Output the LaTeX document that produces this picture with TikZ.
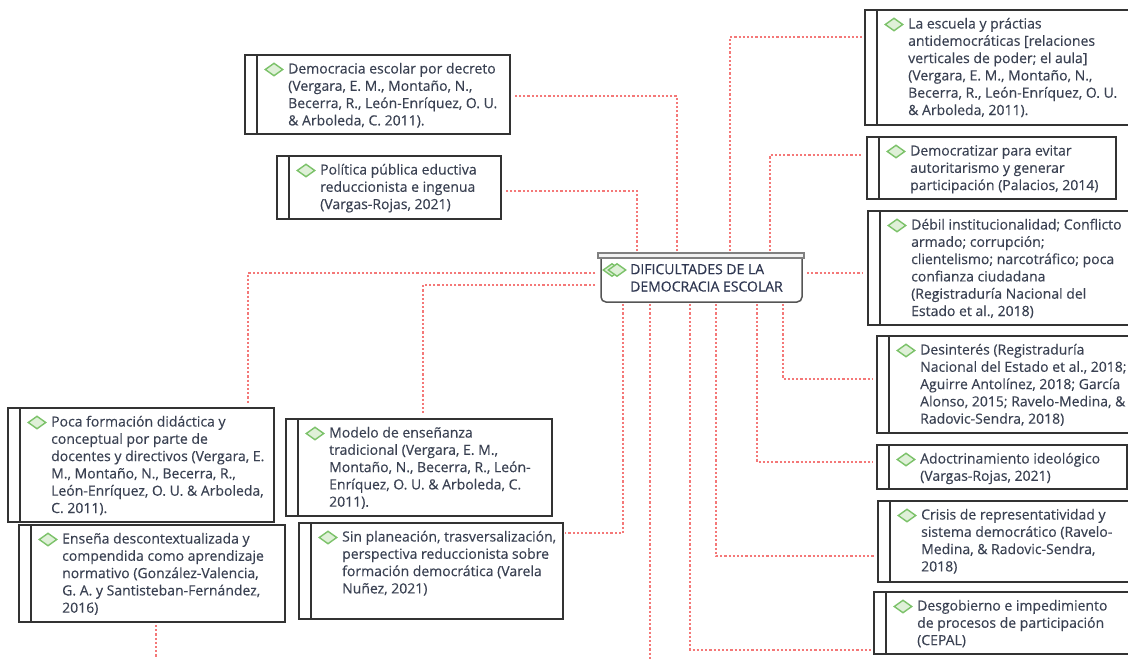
\documentclass[tikz,border=0pt]{standalone}
\usepackage{fontspec}
\setmainfont{Open Sans}[FakeBold=0.3]
\usetikzlibrary{fit,calc,shapes.geometric}
\definecolor{txtc}{HTML}{3A4152}
\definecolor{ttlc}{HTML}{2E3650}
\definecolor{boxc}{HTML}{333333}
\definecolor{ctrc}{HTML}{555555}
\definecolor{barc}{HTML}{F2F2F2}
\definecolor{dgreen}{HTML}{7CC26A}
\definecolor{lgreen}{HTML}{DFF0D8}
\definecolor{lred}{HTML}{F47878}
\tikzset{
  boxs/.style={draw=boxc, line width=1.2pt, inner sep=0pt, outer sep=0pt, rectangle},
  boxline/.style={draw=boxc, line width=1.2pt},
  diam/.style={diamond, draw=dgreen, fill=lgreen, line width=1.4pt, minimum width=18pt, minimum height=13pt, inner sep=0pt},
  txt/.style={anchor=north west, align=left, inner sep=0pt, text=txtc, font=\fontsize{14}{17.3}\selectfont},
  ttl/.style={anchor=north west, align=left, inner sep=0pt, text=ttlc, font=\fontsize{14}{17.3}\selectfont},
  conn/.style={draw=lred, line width=2.6pt, dash pattern=on 2.2pt off 2pt},
}
\newcommand\ibox[6]{%
  \node[boxs, fit={(#2,#3)(#4,#5)}] (#1) {};
  \draw[boxline] ($(#1.north west)+(12,0)$) -- ($(#1.south west)+(12,0)$);
  \node[diam] (#1d) at ($(#1.north west)+(29,14.5)$) {};
  \node[txt] (#1t) at ($(#1.north west)+(43,3.3)$) {\rule{0pt}{15pt}#6};
}
\begin{document}
\begin{tikzpicture}[x=1pt,y=-1pt]
\useasboundingbox (0,0) rectangle (1128,659);
\clip (0,0) rectangle (1128,659);
\fill[white] (0,0) rectangle (1128,659);

% center node
\node[fit={(598,253)(804,302)}, inner sep=0pt, outer sep=0pt] (ctr) {};
\draw[draw=ctrc, line width=1.5pt, rounded corners=5pt] ($(ctr.north west)+(3,3)$) -- ($(ctr.south west)+(3,0)$) -- ($(ctr.south east)+(-2,0)$) -- ($(ctr.north east)+(-2,3)$);
\draw[draw=gray, fill=barc, line width=1.1pt] (ctr.north west) rectangle ($(ctr.north east)+(0,5)$);
\node[diam] (ctrd1) at ($(ctr.north west)+(14,17)$) {};
\node[diam] (ctrd2) at ($(ctr.north west)+(19,17)$) {};
\node[ttl] (ctrt) at ($(ctr.north west)+(32,6)$) {\rule{0pt}{15pt}DIFICULTADES DE LA\\DEMOCRACIA ESCOLAR};

% boxes
\ibox{b1}{245}{55}{510}{134}{Democracia escolar por decreto\\(Vergara, E. M., Montaño, N.,\\Becerra, R., León-Enríquez, O. U.\\\& Arboleda, C. 2011).}
\ibox{b2}{277}{156}{501}{219}{Política pública eductiva\\reduccionista e ingenua\\(Vargas-Rojas, 2021)}
\ibox{b4}{865}{10}{1132}{125}{La escuela y práctias\\antidemocráticas [relaciones\\verticales de poder; el aula]\\(Vergara, E. M., Montaño, N.,\\Becerra, R., León-Enríquez, O. U.\\\& Arboleda, 2011).}
\ibox{b5}{867}{137}{1116}{199}{Democratizar para evitar\\autoritarismo y generar\\participación (Palacios, 2014)}
\ibox{b6}{868}{211}{1132}{325}{Débil institucionalidad; Conflicto\\armado; corrupción;\\clientelismo; narcotráfico; poca\\confianza ciudadana\\(Registraduría Nacional del\\Estado et al., 2018)}
\ibox{b7}{877}{336}{1132}{433}{Desinterés (Registraduría\\Nacional del Estado et al., 2018;\\Aguirre Antolínez, 2018; García\\Alonso, 2015; Ravelo-Medina, \&\\Radovic-Sendra, 2018)}
\ibox{b8}{877}{445}{1127}{489}{Adoctrinamiento ideológico\\(Vargas-Rojas, 2021)}
\ibox{b9}{878}{501}{1132}{582}{Crisis de representatividad y\\sistema democrático (Ravelo-\\Medina, \& Radovic-Sendra,\\2018)}
\ibox{b10}{874}{592}{1132}{654}{Desgobierno e impedimiento\\de procesos de participación\\(CEPAL)}
\ibox{b11}{8}{408}{274}{522}{Poca formación didáctica y\\conceptual por parte de\\docentes y directivos (Vergara, E.\\M., Montaño, N., Becerra, R.,\\León-Enríquez, O. U. \& Arboleda,\\C. 2011).}
\ibox{b12}{19}{525}{285}{622}{Enseña descontextualizada y\\compendida como aprendizaje\\normativo (González-Valencia,\\G. A. y Santisteban-Fernández,\\2016)}
\ibox{b13}{286}{419}{552}{516}{Modelo de enseñanza\\tradicional (Vergara, E. M.,\\Montaño, N., Becerra, R., León-\\Enríquez, O. U. \& Arboleda, C.\\2011).}
\ibox{b14}{299}{523}{563}{619}{Sin planeación, trasversalización,\\perspectiva reduccionista sobre\\formación democrática (Varela\\Nuñez, 2021)}

% connectors
\coordinate (bot1) at (650,665);
\coordinate (bot2) at (156,665);
\draw[conn, shorten >=4pt] ($(ctr.north west)+(79,-2)$) |- ($(b1.north east)+(0,41)$);
\draw[conn, shorten >=4pt] ($(ctr.north west)+(39,-2)$) |- ($(b2.north east)+(0,35)$);
\draw[conn, shorten >=3pt] ($(ctr.north west)+(132,-2)$) |- ($(b4.north west)+(0,27)$);
\draw[conn, shorten >=5pt] ($(ctr.north west)+(172,-2)$) |- ($(b5.north west)+(0,18)$);
\draw[conn, shorten >=5pt, shorten <=3pt] ($(ctr.north east)+(0,20)$) -- ($(b6.north west)+(0,62)$);
\draw[conn, shorten >=4pt] ($(ctr.south west)+(185,2)$) |- ($(b7.north west)+(0,43)$);
\draw[conn, shorten >=4pt] ($(ctr.south west)+(159,2)$) |- ($(b8.north west)+(0,17)$);
\draw[conn, shorten >=4pt] ($(ctr.south west)+(118,2)$) |- ($(b9.north west)+(0,55)$);
\draw[conn, shorten >=2pt] ($(ctr.south west)+(92,2)$) |- ($(b10.north west)+(0,58)$);
\draw[conn] ($(ctr.south west)+(52,2)$) -- (bot1);
\draw[conn, shorten >=2pt] ($(ctr.south west)+(25,2)$) |- ($(b14.north east)+(0,10)$);
\draw[conn, shorten >=4pt, shorten <=3pt] ($(ctr.north west)+(0,32)$) -| ($(b13.north west)+(137,0)$);
\draw[conn, shorten >=4pt, shorten <=3pt] ($(ctr.north west)+(0,20)$) -| ($(b11.north west)+(240,0)$);
\draw[conn, shorten <=3pt] ($(b12.south west)+(137,0)$) -- (bot2);
\end{tikzpicture}
\end{document}
